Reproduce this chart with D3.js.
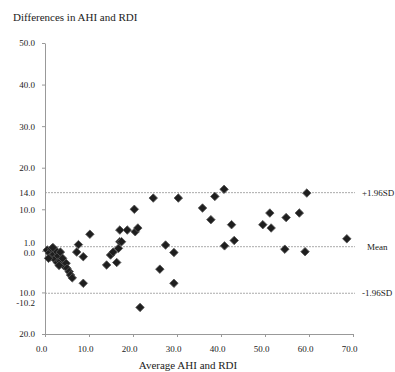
<!DOCTYPE html>
<html>
<head>
<meta charset="utf-8">
<script src="https://cdn.jsdelivr.net/npm/d3@7"></script>
<style>
  body { margin: 0; background: #fff; }
  text { font-family: "Liberation Serif", "DejaVu Serif", serif; }
</style>
</head>
<body>
<div id="chart"></div>
<script>
// average of AHI and RDI (x) vs difference (y)
var avgVals = [0.5, 1.0, 1.5, 1.2, 2.0, 2.5, 2.2, 3.0, 3.5, 2.8, 3.5, 4.0, 4.2, 4.8, 5.0, 5.5, 5.8, 6.2, 0.8, 1.8, 3.2,
  7.6, 7.2, 8.7, 8.7, 10.2, 14.0, 16.3, 14.9, 15.5, 16.7, 17.0, 17.4, 17.0, 18.7, 20.5, 21.1, 20.3, 21.6,
  24.6, 26.1, 27.4, 29.3, 29.3, 30.3, 35.8, 37.7, 38.6, 40.7, 40.8, 42.4, 43.0,
  49.5, 51.4, 51.1, 54.5, 54.8, 57.8, 59.1, 59.5, 68.6];
var diffVals = [0.2, -0.5, 0.5, -1.5, -0.8, 0.0, -2.0, -1.2, -0.3, -2.8, -2.5, -1.8, -3.5, -3.0, -4.2, -5.0, -5.8, -6.5, -1.8, 0.8, -3.5,
  1.5, -0.3, -1.4, -7.8, 4.0, -3.4, -2.8, -1.0, -0.3, 0.6, 2.2, 2.2, 5.0, 5.0, 4.6, 5.5, 10.0, -13.6,
  12.7, -4.4, 1.4, -0.4, -7.8, 12.7, 10.3, 7.5, 13.1, 14.8, 1.2, 6.3, 2.5,
  6.3, 5.5, 9.1, 0.4, 8.0, 9.1, -0.2, 13.9, 2.9];

var yTicks = [50, 40, 30, 20, 10, 0, -10, -20];
var xTicks = [0, 10, 20, 30, 40, 50, 60, 70];
var refNames = ["+1.96SD", "Mean", "-1.96SD"];
var refVals = [14.0, 1.0, -10.2];

var W = 395, H = 372;
var svg = d3.select("#chart").append("svg").attr("width", W).attr("height", H);

var x = d3.scaleLinear().domain([0, 70]).range([45, 353]);
var y = d3.scaleLinear().domain([-20, 50]).range([334, 43]);

svg.append("text").text("Differences  in AHI and RDI")
  .attr("x", 13).attr("y", 21).style("font-size", "11px").attr("fill", "#222");

// reference lines
svg.selectAll(".ref").data(refVals).enter().append("line")
  .attr("x1", x(0)).attr("x2", 355)
  .attr("y1", function(d) { return y(d); }).attr("y2", function(d) { return y(d); })
  .attr("stroke", "#aaa").attr("stroke-dasharray", "2,1");

svg.selectAll(".refLabel").data(refNames).enter().append("text")
  .text(function(d) { return d; })
  .attr("x", function(d, i) { return i == 1 ? 367 : 362; })
  .attr("y", function(d, i) { return y(refVals[i]); })
  .attr("dy", "0.32em")
  .style("font-size", "9px").attr("fill", "#222");

var yAxis = svg.append("g").attr("transform", "translate(" + x(0) + ",0)")
  .call(d3.axisLeft(y).tickValues(yTicks).tickSize(3).tickSizeOuter(0)
    .tickFormat(function(d) { return Math.abs(d).toFixed(1); }));
yAxis.selectAll("text").attr("x", -10).style("font-size", "9px").attr("fill", "#222")
  .style("font-family", "Liberation Serif")
  .attr("dy", function(d) { return d == 0 ? "0.55em" : "0.32em"; });

// extra labels at the reference values
svg.selectAll(".refTick").data(refVals).enter().append("text")
  .text(function(d) { return d.toFixed(1); })
  .attr("x", x(0) - 10).attr("text-anchor", "end")
  .attr("y", function(d, i) { return y(d) + [0, -4, 10][i]; })
  .attr("dy", "0.32em")
  .style("font-size", "9px").attr("fill", "#222");

var xAxis = svg.append("g").attr("transform", "translate(0," + y(-20) + ")")
  .call(d3.axisBottom(x).tickValues(xTicks).tickSize(3).tickSizeOuter(0)
    .tickFormat(function(d) { return d.toFixed(1); }));
xAxis.selectAll("text").attr("dx", -4).attr("y", 12).style("font-size", "9px").attr("fill", "#222")
  .style("font-family", "Liberation Serif");

svg.selectAll(".domain").attr("stroke", "#999");
svg.selectAll(".tick line").attr("stroke", "#999");

svg.append("text").text("Average AHI and RDI")
  .attr("x", 188).attr("y", 369).attr("text-anchor", "middle")
  .style("font-size", "11px").attr("fill", "#222");

var sym = d3.symbol().type(d3.symbolSquare).size(36);
svg.selectAll(".pt").data(avgVals).enter().append("path")
  .attr("d", sym)
  .attr("transform", function(d, i) { return "translate(" + x(d) + "," + y(diffVals[i]) + ") rotate(45)"; })
  .attr("fill", "#1e1e1e").attr("stroke", "#555").attr("stroke-width", 0.8);
</script>
</body>
</html>
